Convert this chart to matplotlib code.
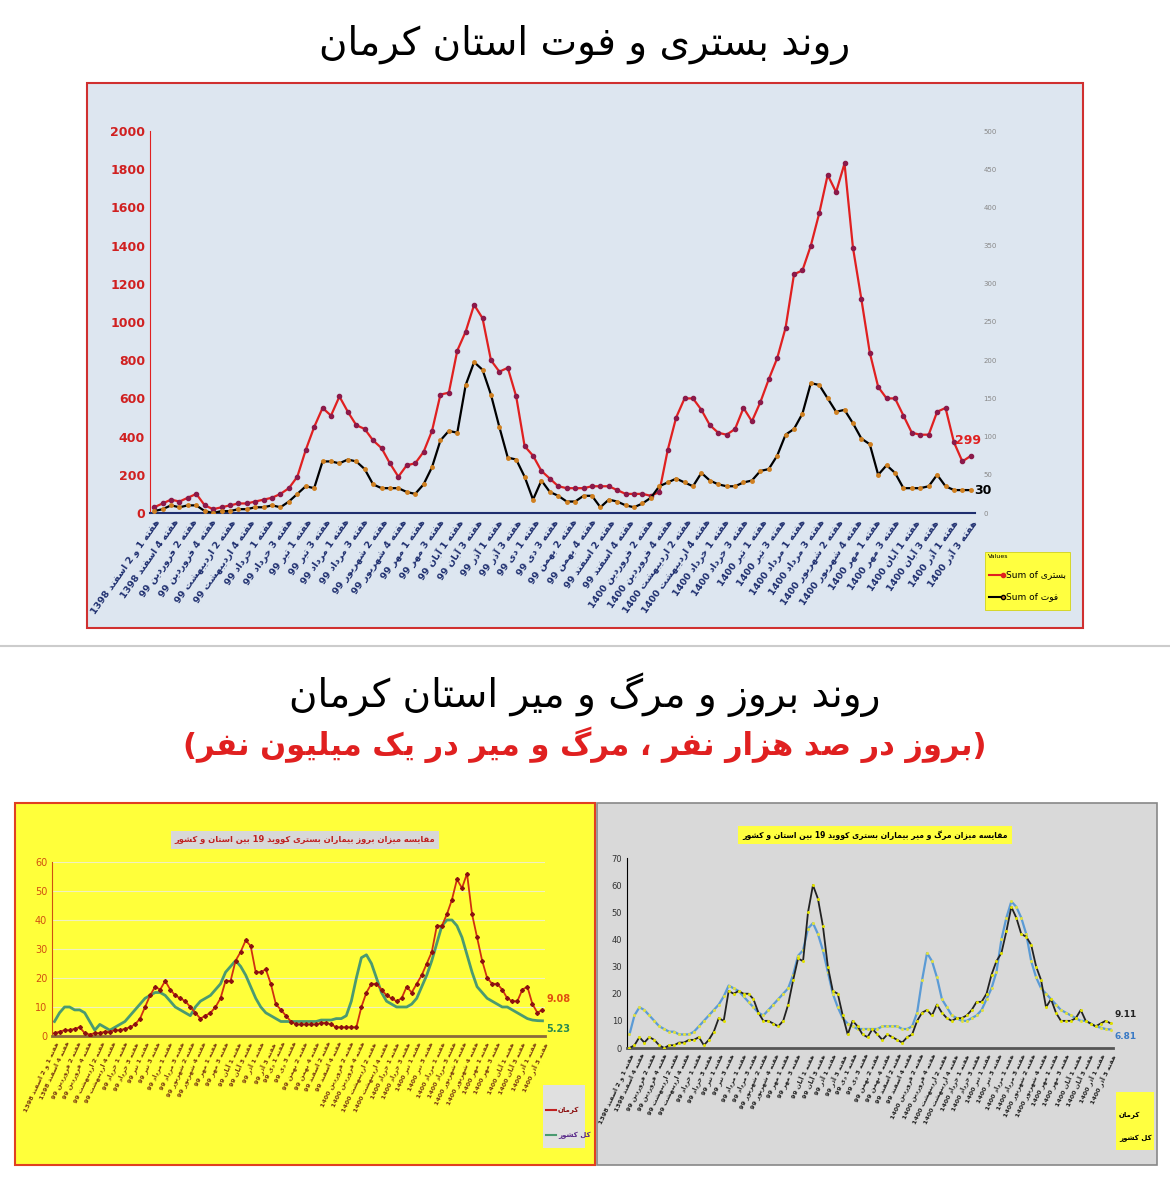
import matplotlib
matplotlib.use("Agg")
import matplotlib.pyplot as plt
from matplotlib.patches import Rectangle
from matplotlib.lines import Line2D

# ---------------- data ----------------
hosp = [30,50,70,60,80,100,40,20,30, 40,50,50,60,70,80,100,130,
        190,330,450,550,510,610,530,460,440,380, 340,260,190,250,260,320,430,620,630,850,
        950,1090,1020,800,740,760,610,350,300,220, 180,140,130,130,130,140,140,140,120,100,
        100,100,90,110,330,500,600,600,540,460, 420,410,440,550,480,580,700,810,970,1250,
        1270,1400,1570,1770,1680,1830,1390,1120,840,660, 600,600,510,420,410,410,530,550,370,270,299]
death = [2.5,5,10,7.5,10,10,2.5,0,2.5, 2.5,5,5,7.5,7.5,10,7.5,15,
         25,35,32.5,67.5,67.5,65,70,67.5,57.5,37.5, 32.5,32.5,32.5,27.5,25,37.5,60,95,107.5,105,
         167.5,197.5,187.5,155,112.5,72.5,70,47.5,17.5,42.5, 27.5,22.5,15,15,22.5,22.5,7.5,17.5,15,10,
         7.5,12.5,20,35,40,45,40,35,52.5,42.5, 37.5,35,35,40,42.5,55,57.5,75,102.5,110,
         130,170,167.5,150,132.5,135,117.5,97.5,90,50, 62.5,52.5,32.5,32.5,32.5,35,50,35,30,30,30]
kerman_inc = [1,1.5,2,2,2.5,3,1,0.5,1, 1,1.5,1.5,2,2,2.5,3,4,
              6,10,14,17,16,19,16,14,13,12, 10,8,6,7,8,10,13,19,19,26,
              29,33,31,22,22,23,18,11,9,7, 5,4,4,4,4,4,4.5,4.5,4,3,
              3,3,3,3,10,15,18,18,16,14, 13,12,13,17,15,18,21,25,29,38,
              38,42,47,54,51,56,42,34,26,20, 18,18,16,13,12,12,16,17,11,8,9.08]
country_inc = [5,8,10,10,9,9,8,5,2, 4,3,2,3,4,5,7,9,
               11,13,14,15,15,14,12,10,9,8, 7,10,12,13,14,16,18,22,24,26,
               24,21,17,13,10,8,7,6,5,5, 5,5,5,5,5,5,5.5,5.5,5.5,6,
               6,7,12,20,27,28,25,20,15,12, 11,10,10,10,11,13,17,21,26,32,
               38,40,40,38,34,28,22,17,15,13, 12,11,10,10,9,8,7,6,5.5,5.3,5.23]
kerman_mort = [0,1,4,2,4,3,1,0,1, 1,2,2,3,3,4,1,3,
               6,11,10,21,20,21,20,20,18,13, 10,10,9,8,10,16,25,33,32,50,
               60,55,45,30,21,20,12,5,10,8, 5,4,7,5,3,5,4,3,2,4,
               5,10,13,14,12,16,13,11,10,11, 11,12,14,17,17,20,27,32,35,43,
               52,48,42,41,38,30,25,15,18,13, 10,10,10,11,14,10,9,8,9,10,9.11]
country_mort = [5,12,15,14,12,10,8,7,6, 6,5,5,5,6,8,10,12,
                14,16,19,23,22,21,19,17,15,13, 12,14,16,18,20,22,27,34,36,44,
                46,42,36,28,20,15,11,9,8,7, 7,7,7,7,8,8,8,8,7,7,
                8,13,25,35,32,26,18,15,12,11, 10,10,11,12,14,18,22,28,40,48,
                54,52,48,42,32,26,22,20,18,16, 14,13,12,11,10,10,9,8,7.5,7,6.81]

months = ["فروردین","اردیبهشت","خرداد","تیر","مرداد","شهریور","مهر","آبان","آذر","دی","بهمن","اسفند"]

# ---------------- simple Persian shaping ----------------
FORMS = {
 'ا':(0xFE8D,0xFE8E,None,None),'آ':(0xFE81,0xFE82,None,None),
 'ب':(0xFE8F,0xFE90,0xFE91,0xFE92),'پ':(0xFB56,0xFB57,0xFB58,0xFB59),
 'ت':(0xFE95,0xFE96,0xFE97,0xFE98),'ث':(0xFE99,0xFE9A,0xFE9B,0xFE9C),
 'ج':(0xFE9D,0xFE9E,0xFE9F,0xFEA0),'چ':(0xFB7A,0xFB7B,0xFB7C,0xFB7D),
 'ح':(0xFEA1,0xFEA2,0xFEA3,0xFEA4),'خ':(0xFEA5,0xFEA6,0xFEA7,0xFEA8),
 'د':(0xFEA9,0xFEAA,None,None),'ذ':(0xFEAB,0xFEAC,None,None),
 'ر':(0xFEAD,0xFEAE,None,None),'ز':(0xFEAF,0xFEB0,None,None),'ژ':(0xFB8A,0xFB8B,None,None),
 'س':(0xFEB1,0xFEB2,0xFEB3,0xFEB4),'ش':(0xFEB5,0xFEB6,0xFEB7,0xFEB8),
 'ص':(0xFEB9,0xFEBA,0xFEBB,0xFEBC),'ض':(0xFEBD,0xFEBE,0xFEBF,0xFEC0),
 'ط':(0xFEC1,0xFEC2,0xFEC3,0xFEC4),'ظ':(0xFEC5,0xFEC6,0xFEC7,0xFEC8),
 'ع':(0xFEC9,0xFECA,0xFECB,0xFECC),'غ':(0xFECD,0xFECE,0xFECF,0xFED0),
 'ف':(0xFED1,0xFED2,0xFED3,0xFED4),'ق':(0xFED5,0xFED6,0xFED7,0xFED8),
 'ک':(0xFB8E,0xFB8F,0xFB90,0xFB91),'گ':(0xFB92,0xFB93,0xFB94,0xFB95),
 'ل':(0xFEDD,0xFEDE,0xFEDF,0xFEE0),'م':(0xFEE1,0xFEE2,0xFEE3,0xFEE4),
 'ن':(0xFEE5,0xFEE6,0xFEE7,0xFEE8),'ه':(0xFEE9,0xFEEA,0xFEEB,0xFEEC),
 'و':(0xFEED,0xFEEE,None,None),'ی':(0xFBFC,0xFBFD,0xFBFE,0xFBFF),
}
def dual(c):
    return c in FORMS and FORMS[c][2] is not None
def shape_word(w):
    out = []
    for i, c in enumerate(w):
        if c not in FORMS:
            out.append(c); continue
        p = w[i-1] if i > 0 else None
        nx = w[i+1] if i < len(w)-1 else None
        jp = p is not None and dual(p)
        jn = dual(c) and nx is not None and nx in FORMS
        f = FORMS[c]
        if jp and jn: g = f[3]
        elif jp: g = f[1]
        elif jn: g = f[2]
        else: g = f[0]
        out.append(chr(g))
    return ''.join(reversed(out))
def fa(s):
    res = []
    for t in s.split(' '):
        res.append(shape_word(t) if any(ch in FORMS for ch in t) else t)
    return ' '.join(reversed(res))

# tick labels (roughly every other week)
week_labels = ["هفته 1 و 2 اسفند 1398", "هفته 4 اسفند 1398"]
for yr, ms in (("99", months), ("1400", months[:9])):
    for m in ms:
        for w in (("1", "3") if m in ("خرداد","تیر","مرداد","مهر","آبان","آذر","دی") else ("2", "4")):
            week_labels.append(f"هفته {w} {m} {yr}")
n = len(hosp)
nl = len(week_labels)
tick_pos = [i * (n - 1) / (nl - 1) for i in range(nl)]
tick_text = [fa(t) for t in week_labels]

plt.rcParams['font.family'] = ['DejaVu Sans']
W, H = 1170, 1182
fig = plt.figure(figsize=(W/100, H/100), dpi=100, facecolor='white')

def frect(x0, y0, x1, y1, fc, ec, lw=1.2):
    fig.patches.append(Rectangle((x0/W, 1-y1/H), (x1-x0)/W, (y1-y0)/H, transform=fig.transFigure,
                                 fc=fc, ec=ec, lw=lw, zorder=-5))
def fax(x0, y0, x1, y1):
    a = fig.add_axes([x0/W, 1-y1/H, (x1-x0)/W, (y1-y0)/H])
    a.set_zorder(2)
    return a
def xs(a):
    return list(range(len(a)))

# titles
fig.text(0.5, 1-45/H, fa("روند بستری و فوت استان کرمان"), ha='center', va='center', fontsize=28)
fig.add_artist(Line2D([0, 1], [1-646/H]*2, color='#cccccc', lw=1.5))
fig.text(0.5, 1-695/H, fa("روند بروز و مرگ و میر استان کرمان"), ha='center', va='center', fontsize=28)
sub = "(" + fa("بروز در صد هزار نفر ، مرگ و میر در یک میلیون نفر") + ")"
fig.text(0.5, 1-745/H, sub, ha='center', va='center', fontsize=22, color='#e02020', fontweight='bold')

# ---------------- top chart ----------------
frect(87, 83, 1083, 628, '#dde6f0', '#d03030', 1.5)
ax = fax(150, 131, 975, 513)
ax.set_facecolor('none')
ax.plot(xs(hosp), hosp, color='#e02020', lw=1.6, marker='o', ms=3, mfc='#8b1a4a', mec='#8b1a4a', zorder=3)
ax2 = ax.twinx()
ax2.set_zorder(3)
ax2.plot(xs(death), death, color='black', lw=1.6, marker='o', ms=2.5, mfc='#d08020', mec='#d08020', zorder=3)
ax.set_ylim(0, 2000); ax2.set_ylim(0, 500)
ax.set_xlim(-0.5, n-0.5)
ax.set_yticks(range(0, 2001, 200))
ax.tick_params(axis='y', colors='#d02020', labelsize=9, length=0)
for l in ax.get_yticklabels(): l.set_fontweight('bold')
ax2.set_yticks(range(0, 501, 50))
ax2.tick_params(axis='y', colors='#888888', labelsize=5, length=0, pad=6)
ax.set_xticks(tick_pos)
ax.set_xticklabels(tick_text, rotation=55, ha='right', rotation_mode='anchor', fontsize=6.8,
                   color='#1f2f6f', fontweight='bold')
ax.tick_params(axis='x', length=0)
for s in ['top', 'right']:
    ax.spines[s].set_visible(False); ax2.spines[s].set_visible(False)
ax.spines['left'].set_color('#e02020'); ax.spines['bottom'].set_color('#1f2f6f'); ax.spines['bottom'].set_linewidth(1.5)
ax2.spines['left'].set_visible(False); ax2.spines['bottom'].set_visible(False)
ax.text(n-1.3, hosp[-1]+45, str(hosp[-1]), color='#e02020', fontsize=9, fontweight='bold', ha='center', va='bottom')
ax2.text(n-0.6, death[-1], "30", color='black', fontsize=9, fontweight='bold', ha='left', va='center')
# legend
frect(985, 552, 1070, 610, '#ffff40', '#cccc00', 0.5)
fig.add_artist(Line2D([989/W, 1003/W], [1-575/H]*2, color='#e02020', lw=1.5, marker='o', ms=3, markevery=[1]))
fig.add_artist(Line2D([989/W, 1003/W], [1-597/H]*2, color='black', lw=1.5, marker='o', ms=3, mfc='#d08020', markevery=[1]))
fig.text(1006/W, 1-575/H, "Sum of " + fa("بستری"), fontsize=6.5, va='center')
fig.text(1006/W, 1-597/H, "Sum of " + fa("فوت"), fontsize=6.5, va='center')
fig.text(988/W, 1-557/H, "Values", fontsize=4.5, va='center')

# ---------------- bottom left ----------------
frect(15, 803, 595, 1165, '#ffff3a', '#e04020', 1.5)
bl = fax(52, 862, 545, 1036)
bl.set_facecolor('none')
bl.plot(xs(country_inc), country_inc, color='#4a9a70', lw=2, zorder=2)
bl.plot(xs(kerman_inc), kerman_inc, color='#d03010', lw=1.3, marker='D', ms=2, mfc='#8b1010', mec='#8b1010', zorder=3)
bl.set_ylim(0, 60); bl.set_xlim(-0.5, n-0.5)
bl.set_yticks(range(0, 61, 10))
bl.grid(axis='y', color='#f0f0c0', lw=0.8)
bl.tick_params(axis='y', colors='#d05010', labelsize=7, length=0)
bl.set_xticks(tick_pos)
bl.set_xticklabels(tick_text, rotation=65, ha='right', rotation_mode='anchor', fontsize=4.6, color='#7a3a10', fontweight='bold')
bl.tick_params(axis='x', length=0)
for s in ['top', 'right']: bl.spines[s].set_visible(False)
bl.spines['left'].set_color('#d05010'); bl.spines['bottom'].set_color('#8b6a3a'); bl.spines['bottom'].set_linewidth(2)
bl.text(n-0.2, kerman_inc[-1]+2, "9.08", color='#e05010', fontsize=7, fontweight='bold', va='bottom')
bl.text(n-0.2, country_inc[-1]-1, "5.23", color='#2a8a50', fontsize=7, fontweight='bold', va='top')
fig.text(305/W, 1-840/H, fa("مقایسه میزان بروز بیماران بستری کووید 19 بین استان و کشور"), ha='center', va='center',
         fontsize=6, color='#c02020', fontweight='bold', bbox=dict(fc='#d8d8d8', ec='none', pad=3))
frect(543, 1085, 585, 1148, '#e0e0e0', 'none', 0)
fig.add_artist(Line2D([546/W, 556/W], [1-1110/H]*2, color='#c02020', lw=1.5))
fig.add_artist(Line2D([546/W, 556/W], [1-1135/H]*2, color='#4a9a70', lw=1.5))
fig.text(558/W, 1-1110/H, fa("کرمان"), fontsize=5, va='center', color='#8b1010', fontweight='bold')
fig.text(558/W, 1-1135/H, fa("کل کشور"), fontsize=5, va='center', color='#5a2a8a', fontweight='bold')

# ---------------- bottom right ----------------
frect(597, 803, 1157, 1165, '#d9d9d9', '#888888', 1.2)
br = fax(627, 858, 1113, 1048)
br.set_facecolor('none')
br.plot(xs(country_mort), country_mort, color='#5b9bd5', lw=1.6, marker='o', ms=1.2, mfc='#e0e040', mec='#e0e040', zorder=2)
br.plot(xs(kerman_mort), kerman_mort, color='#222222', lw=1.3, marker='o', ms=1.2, mfc='#e0e000', mec='#e0e000', zorder=3)
br.set_ylim(0, 70); br.set_xlim(-0.5, n-0.5)
br.set_yticks(range(0, 71, 10))
br.tick_params(axis='y', colors='#333333', labelsize=6, length=0)
br.set_xticks(tick_pos)
br.set_xticklabels(tick_text, rotation=65, ha='right', rotation_mode='anchor', fontsize=4.6, color='#222222', fontweight='bold')
br.tick_params(axis='x', length=0)
for s in ['top', 'right']: br.spines[s].set_visible(False)
br.spines['bottom'].set_color('#555555'); br.spines['bottom'].set_linewidth(2)
br.text(n-0.2, kerman_mort[-1]+1.5, "9.11", color='#222222', fontsize=6.5, fontweight='bold', va='bottom')
br.text(n-0.2, country_mort[-1]-1, "6.81", color='#3a7ac5', fontsize=6.5, fontweight='bold', va='top')
fig.text(875/W, 1-835/H, fa("مقایسه میزان مرگ و میر بیماران بستری کووید 19 بین استان و کشور"), ha='center', va='center',
         fontsize=5.5, color='black', fontweight='bold', bbox=dict(fc='#ffff40', ec='none', pad=3))
frect(1116, 1092, 1154, 1150, '#ffff40', 'none', 0)
fig.text(1119/W, 1-1115/H, fa("کرمان"), fontsize=5, va='center', fontweight='bold')
fig.text(1119/W, 1-1138/H, fa("کل کشور"), fontsize=5, va='center', fontweight='bold')

fig.savefig("out.png", dpi=100, facecolor='white')
